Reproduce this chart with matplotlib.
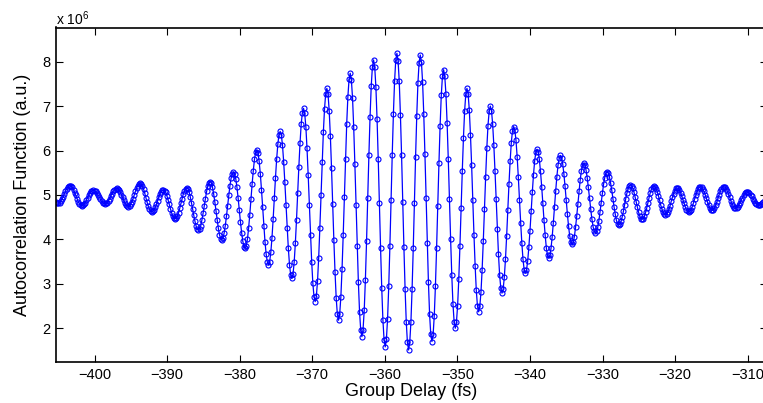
import numpy as np
import matplotlib
matplotlib.use('Agg')
import matplotlib.pyplot as plt

plt.rcParams['font.family'] = ['Liberation Sans', 'DejaVu Sans']

# scan grid (fs)
delay_start = -405.31
delay_step = 0.16088

# autocorrelation samples, in units of 1e6
acf_left = [
    4.84, 4.82, 4.82,
    4.83, 4.86, 4.90, 4.95, 5.02, 5.08, 5.13, 5.17, 5.20, 5.21,
    5.20, 5.17, 5.12, 5.05, 4.99, 4.92, 4.85, 4.80, 4.77, 4.76,
    4.77, 4.79, 4.83, 4.88, 4.94, 4.99, 5.04, 5.08, 5.10, 5.11,
    5.10, 5.08, 5.05, 5.00, 4.96, 4.91, 4.86, 4.83, 4.81, 4.80,
    4.81, 4.83, 4.87, 4.92, 4.98, 5.03, 5.08, 5.12, 5.14, 5.15,
    5.14, 5.11, 5.07, 5.01, 4.95, 4.88, 4.82, 4.78, 4.75, 4.74,
    4.75, 4.79, 4.85, 4.92, 5.00, 5.08, 5.15, 5.21, 5.25, 5.26,
    5.24, 5.20, 5.13, 5.04, 4.94, 4.84, 4.75, 4.68, 4.64, 4.62,
    4.63, 4.67, 4.72, 4.79, 4.87, 4.95, 5.02, 5.07, 5.11, 5.12,
    5.10, 5.06, 4.98, 4.89, 4.79, 4.69, 4.60, 4.52, 4.48, 4.46,
    4.48, 4.53, 4.60, 4.70, 4.81, 4.92, 5.02, 5.09, 5.14, 5.16,
    5.14, 5.07, 4.96, 4.83, 4.69, 4.54, 4.41, 4.30, 4.23, 4.21,
    4.24, 4.31, 4.44, 4.59, 4.76, 4.92, 5.08, 5.20, 5.27, 5.30,
    5.27, 5.18, 5.03, 4.85, 4.65, 4.44, 4.26, 4.11, 4.02, 3.99,
    4.03, 4.14, 4.31, 4.52, 4.76, 4.99, 5.21, 5.38, 5.48, 5.52,
    5.48, 5.36, 5.17, 4.93, 4.66, 4.39, 4.15, 3.96, 3.84, 3.80,
    3.86, 4.01, 4.26, 4.56, 4.91, 5.25, 5.55, 5.80, 5.96, 6.01,
    5.95, 5.76, 5.48, 5.12, 4.72, 4.31, 3.95, 3.67, 3.49, 3.42,
    3.50, 3.71, 4.04, 4.46, 4.93, 5.39, 5.81, 6.14, 6.36, 6.43,
    6.35, 6.12, 5.75, 5.29, 4.78, 4.26, 3.80, 3.43, 3.20, 3.12,
]

acf_center = [
    3.22, 3.48, 3.91, 4.44, 5.04, 5.63, 6.16, 6.59, 6.85, 6.95,
    6.84, 6.54, 6.05, 5.45, 4.78, 4.10, 3.50, 3.01, 2.71, 2.60,
    2.72, 3.06, 3.59, 4.26, 5.00, 5.74, 6.41, 6.94, 7.28, 7.40,
    7.27, 6.90, 6.33, 5.60, 4.79, 3.98, 3.26, 2.68, 2.31, 2.18,
    2.32, 2.71, 3.33, 4.10, 4.96, 5.82, 6.60, 7.21, 7.60, 7.74,
    7.59, 7.18, 6.52, 5.69, 4.78, 3.86, 3.03, 2.37, 1.96, 1.81,
    1.97, 2.40, 3.09, 3.96, 4.93, 5.89, 6.76, 7.45, 7.88, 8.04,
    7.88, 7.43, 6.71, 5.81, 4.81, 3.81, 2.91, 2.19, 1.74, 1.58,
    1.75, 2.21, 2.94, 3.86, 4.89, 5.91, 6.83, 7.56, 8.03, 8.19,
    8.02, 7.56, 6.81, 5.89, 4.85, 3.82, 2.89, 2.15, 1.68, 1.51,
    1.68, 2.14, 2.88, 3.80, 4.83, 5.86, 6.78, 7.52, 7.98, 8.15,
    7.99, 7.54, 6.82, 5.92, 4.93, 3.93, 3.03, 2.31, 1.86, 1.70,
    1.85, 2.28, 2.96, 3.81, 4.76, 5.71, 6.56, 7.24, 7.67, 7.82,
    7.67, 7.27, 6.62, 5.81, 4.91, 4.01, 3.20, 2.55, 2.15, 2.00,
    2.14, 2.51, 3.11, 3.86, 4.70, 5.54, 6.29, 6.89, 7.27, 7.40,
    7.27, 6.92, 6.36, 5.67, 4.89, 4.11, 3.41, 2.85, 2.50, 2.37,
    2.49, 2.81, 3.32, 3.97, 4.69, 5.40, 6.05, 6.56, 6.88, 7.00,
    6.90, 6.60, 6.13, 5.55, 4.90, 4.24, 3.66, 3.19, 2.90, 2.79,
    2.88, 3.15, 3.56, 4.08, 4.67, 5.25, 5.77, 6.18, 6.45, 6.54,
    6.46, 6.23, 5.86, 5.40, 4.89, 4.38, 3.92, 3.55, 3.32, 3.24,
]

acf_right = [
    3.31, 3.51, 3.82, 4.20, 4.64, 5.07, 5.46, 5.77, 5.96, 6.03,
    5.97, 5.80, 5.53, 5.19, 4.81, 4.43, 4.09, 3.81, 3.64, 3.58,
    3.64, 3.80, 4.06, 4.38, 4.74, 5.09, 5.41, 5.67, 5.83, 5.89,
    5.84, 5.70, 5.48, 5.20, 4.89, 4.58, 4.30, 4.08, 3.94, 3.89,
    3.94, 4.06, 4.27, 4.52, 4.80, 5.08, 5.34, 5.54, 5.67, 5.71,
    5.67, 5.56, 5.39, 5.17, 4.93, 4.68, 4.46, 4.29, 4.18, 4.14,
    4.18, 4.27, 4.42, 4.62, 4.83, 5.04, 5.24, 5.39, 5.49, 5.52,
    5.49, 5.41, 5.27, 5.11, 4.92, 4.73, 4.57, 4.43, 4.35, 4.32,
    4.34, 4.41, 4.51, 4.63, 4.78, 4.92, 5.04, 5.14, 5.21, 5.23,
    5.21, 5.16, 5.07, 4.96, 4.84, 4.72, 4.61, 4.52, 4.47, 4.45,
    4.47, 4.52, 4.61, 4.71, 4.83, 4.94, 5.05, 5.13, 5.18, 5.20,
    5.18, 5.14, 5.07, 4.98, 4.88, 4.77, 4.68, 4.61, 4.57, 4.55,
    4.57, 4.61, 4.68, 4.76, 4.86, 4.95, 5.03, 5.10, 5.15, 5.16,
    5.15, 5.11, 5.05, 4.97, 4.89, 4.81, 4.73, 4.67, 4.63, 4.62,
    4.63, 4.67, 4.74, 4.82, 4.91, 4.99, 5.07, 5.14, 5.18, 5.19,
    5.18, 5.14, 5.08, 5.01, 4.93, 4.84, 4.77, 4.71, 4.67, 4.66,
    4.67, 4.71, 4.77, 4.84, 4.93, 5.01, 5.08, 5.14, 5.18, 5.19,
    5.18, 5.14, 5.09, 5.02, 4.95, 4.87, 4.80, 4.75, 4.71, 4.70,
    4.71, 4.74, 4.78, 4.83, 4.89, 4.94, 4.99, 5.04, 5.06, 5.07,
    5.06, 5.04, 5.01, 4.97, 4.92, 4.87, 4.83, 4.80, 4.78, 4.77,
    4.78, 4.79, 4.82, 4.85, 4.89, 4.92, 4.95,
]

x_ticks = [-400, -390, -380, -370, -360, -350, -340, -330, -320, -310]
y_ticks = [2, 3, 4, 5, 6, 7, 8]


def main():
    acf = np.array(acf_left + acf_center + acf_right)
    delay = delay_start + delay_step * np.arange(len(acf))

    fig = plt.figure(figsize=(7.63, 4.03), dpi=100)
    ax = fig.add_axes([56 / 763, 41 / 403, 711 / 763, 334.5 / 403])

    ax.plot(delay, acf, '-o', color='b', lw=0.9, ms=3.6, mew=0.8,
            mfc='none', mec='b')

    ax.set_xlim(delay_start, delay[-1])
    ax.set_ylim(1.24, 8.77)
    ax.set_xticks(x_ticks)
    ax.set_yticks(y_ticks)
    ax.tick_params(direction='in', length=5, width=0.8, top=True,
                   right=True, labelsize=10.5, pad=4, colors='black')
    for side in ['left', 'bottom', 'top']:
        ax.spines[side].set_linewidth(1.2)
    ax.spines['right'].set_visible(False)

    ax.set_xlabel('Group Delay (fs)', fontsize=13, labelpad=1)
    ax.set_ylabel('Autocorrelation Function (a.u.)', fontsize=13, labelpad=8)
    fig.text(56 / 763, 1 - 25 / 403, r'x 10$^{\mathregular{6}}$',
             fontsize=10, va='baseline', ha='left')

    fig.savefig('out.png', dpi=100)


if __name__ == '__main__':
    main()
